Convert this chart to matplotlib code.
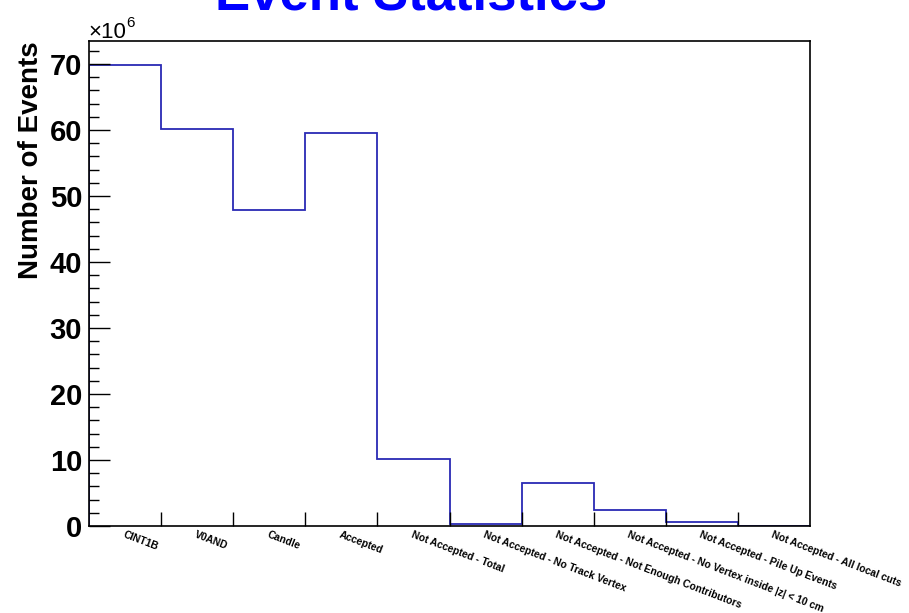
import numpy as np
import matplotlib
matplotlib.use("Agg")
import matplotlib.pyplot as plt
from matplotlib.ticker import MultipleLocator, FuncFormatter

plt.rcParams['font.family'] = ['Liberation Sans', 'DejaVu Sans']

# Event counts per selection step
categories = [
    'CINT1B',
    'V0AND',
    'Candle',
    'Accepted',
    'Not Accepted - Total',
    'Not Accepted - No Track Vertex',
    'Not Accepted - Not Enough Contributors',
    'Not Accepted - No Vertex inside |z| < 10 cm',
    'Not Accepted - Pile Up Events',
    'Not Accepted - All local cuts',
]
counts = [69.8e6, 60.1e6, 47.9e6, 59.6e6, 10.15e6, 0.3e6, 6.5e6, 2.45e6, 0.55e6, 0.0]

edges = np.arange(len(counts) + 1)

fig = plt.figure(figsize=(9.09, 6.13), dpi=100)
ax = fig.add_axes([89 / 909, 1 - 526 / 613, (810 - 89) / 909, (526 - 41) / 613])

ax.stairs(counts, edges, color='#2a2ab4', linewidth=1.3, baseline=0)

ax.set_xlim(edges[0], edges[-1])
ax.set_ylim(0, 73.5e6)

for s in ax.spines.values():
    s.set_linewidth(1.2)
    s.set_color('black')

# y axis: major every 10M, minor every 2M, ticks pointing inward
ax.yaxis.set_major_locator(MultipleLocator(10e6))
ax.yaxis.set_minor_locator(MultipleLocator(2e6))
ax.yaxis.set_major_formatter(FuncFormatter(lambda v, p: f'{v / 1e6:.0f}'))
ax.tick_params(axis='y', which='major', direction='in', length=15, width=1.0,
               labelsize=21, pad=5, right=False)
ax.tick_params(axis='y', which='minor', direction='in', length=7.5, width=1.0, right=False)
for lab in ax.get_yticklabels():
    lab.set_fontweight('bold')

# x axis: ticks at bin edges, labels placed at bin centres
ax.set_xticks(edges[1:-1])
ax.set_xticklabels([])
ax.tick_params(axis='x', which='major', direction='in', length=10, width=1.0, top=False)
for i, name in enumerate(categories):
    ax.text(i + 0.5, -0.008, name, transform=ax.get_xaxis_transform(),
            rotation=-21, rotation_mode='anchor', ha='left', va='top',
            fontsize=7.4, fontweight='bold')

ax.set_ylabel('Number of Events', fontsize=20, fontweight='bold')
ax.yaxis.set_label_coords(-0.062, 1.0)
ax.yaxis.label.set_horizontalalignment('right')

# exponent label above the axis
fig.text(88 / 909, 1 - 38 / 613, '\u00d710', fontsize=16, ha='left', va='baseline')
fig.text(126 / 909, 1 - 27 / 613, '6', fontsize=11, ha='left', va='baseline')

fig.text(411 / 909, 1 - 10 / 613, 'Event Statistics', fontsize=38, fontweight='bold',
         color='#0000ff', ha='center', va='baseline')

fig.savefig('out.png', dpi=100)
